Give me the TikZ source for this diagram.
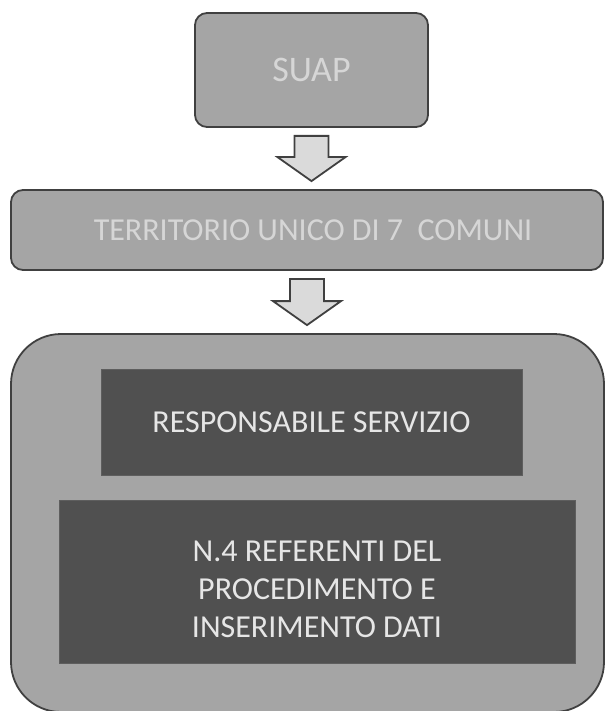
\documentclass[tikz,border=0pt]{standalone}
\usepackage{fontspec}
\setmainfont{Carlito}
\usepackage{tikz}
\usetikzlibrary{calc}

\definecolor{grigioBox}{HTML}{A5A5A5}
\definecolor{bordoScuro}{HTML}{404040}
\definecolor{grigioScuro}{HTML}{505050}
\definecolor{bordoInterno}{HTML}{5E5E5E}
\definecolor{testoChiaro}{HTML}{D6D6D6}
\definecolor{testoInterno}{HTML}{E6E6E6}
\definecolor{frecciaChiara}{HTML}{DADADA}

\tikzset{
  boxgrigio/.style={draw=bordoScuro, line width=1.8pt, fill=grigioBox, rounded corners=12pt,
    text=testoChiaro, font=\fontsize{32}{38}\selectfont},
  boxscuro/.style={draw=bordoInterno, line width=1pt, fill=grigioScuro,
    text=testoInterno, font=\fontsize{32}{38}\selectfont, align=center},
  testoscuro/.style={text=testoInterno, font=\fontsize{32}{38}\selectfont, align=center},
  freccia/.style={draw=bordoScuro, line width=1.8pt, fill=frecciaChiara, line join=miter}
}

% freccia a blocco tra due nodi
\newcommand{\frecciablocco}[2]{%
  \coordinate (t) at ($(#1.south)+(0,8)$);          % inizio del gambo
  \coordinate (p) at ($(t |- #2.north)+(0,-8)$);     % punta
  \draw[freccia] ($(t)+(-17,0)$) -- ($(t)+(17,0)$) -- ($(p)+(17,-24)$) -- ($(p)+(34,-24)$)
    -- (p) -- ($(p)+(-34,-24)$) -- ($(p)+(-17,-24)$) -- cycle;
}

\begin{document}
\begin{tikzpicture}[x=1pt, y=-1pt]
        % dimensioni della pagina
        \useasboundingbox (0,0) rectangle (605,711);

        % riquadri principali
        \node[boxgrigio, minimum width=233pt, minimum height=114pt, font=\fontsize{36}{43}\selectfont] (suap) at (311.5,70) {SUAP};
        \node[boxgrigio, minimum width=592pt, minimum height=80pt] (territorio) at (307,230) {\hspace{12pt}TERRITORIO UNICO DI 7~~COMUNI};
        \node[boxgrigio, rounded corners=50pt, minimum width=593pt, minimum height=378pt] (uffici) at (307.5,523) {};

        % riquadri interni
        \node[boxscuro, minimum width=421pt, minimum height=106pt] (responsabile) at (311.5,422) {RESPONSABILE SERVIZIO};
        \node[boxscuro, minimum width=516pt, minimum height=163pt] (referenti) at (317,581.5) {};
        \node[testoscuro] (referentiTesto) at ($(referenti.center)+(0,8)$)
            {N.4 REFERENTI DEL\\PROCEDIMENTO E\\INSERIMENTO DATI};

        % frecce
        \frecciablocco{suap}{territorio}
        \frecciablocco{territorio}{uffici}
\end{tikzpicture}
\end{document}
